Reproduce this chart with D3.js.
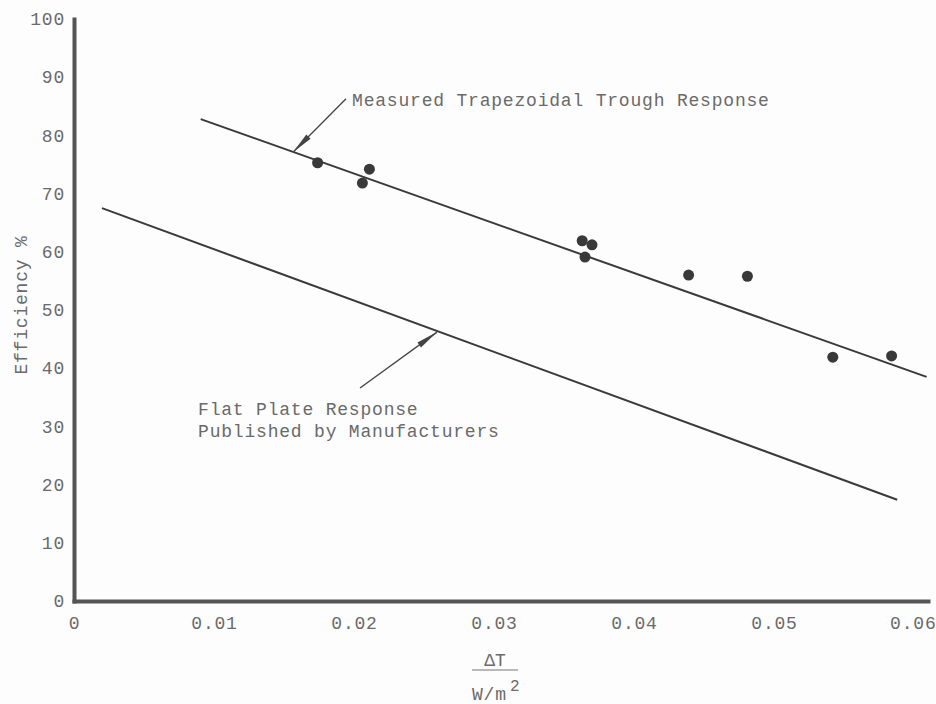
<!DOCTYPE html>
<html>
<head>
<meta charset="utf-8">
<script src="https://cdn.jsdelivr.net/npm/d3@7"></script>
<style>
  body { margin: 0; background: #fdfdfd; }
  svg text { font-family: "Liberation Mono", "Courier New", monospace; fill: #6a6a6a; }
</style>
</head>
<body>
<div id="chart"></div>
<script>
// measured points (dT / (W/m2), efficiency %)
var pointsX = [0.0174, 0.0206, 0.0211, 0.0363, 0.0365, 0.0370, 0.0439, 0.0481, 0.0542, 0.0584];
var pointsY = [75.3, 71.8, 74.2, 61.9, 59.1, 61.2, 56.0, 55.8, 41.9, 42.1];

// fitted lines: [start, end]
var troughLineX = [0.00905, 0.0609];
var troughLineY = [82.8, 38.5];
var flatLineX = [0.0020, 0.0588];
var flatLineY = [67.5, 17.4];

var xTicks = [0, 0.01, 0.02, 0.03, 0.04, 0.05, 0.06];
var xTickLabels = ["0", "0.01", "0.02", "0.03", "0.04", "0.05", "0.06"];
var yTicks = [0, 10, 20, 30, 40, 50, 60, 70, 80, 90, 100];

// annotations: text anchor + arrow tail/tip in data units
var troughNote = { text: ["Measured Trapezoidal Trough Response"], x: 0.01986, y: 85.1,
                   tail: [0.01943, 86.3], tip: [0.01564, 77.1] };
var flatNote = { text: ["Flat Plate Response", "Published by Manufacturers"], x: 0.00886, y: 32.0,
                 tail: [0.02043, 36.6], tip: [0.02593, 46.2] };

var width = 936, height = 704;
var svg = d3.select("#chart").append("svg")
    .attr("width", width)
    .attr("height", height);

var x = d3.scaleLinear().domain([0, 0.061]).range([74, 928]);
var y = d3.scaleLinear().domain([0, 100]).range([601, 19]);

// axes
var xAxis = svg.append("g")
    .attr("transform", `translate(0,${y(0)})`)
    .call(d3.axisBottom(x).tickValues(xTicks).tickFormat((d, i) => xTickLabels[i])
        .tickSize(0).tickPadding(15));
var yAxis = svg.append("g")
    .attr("transform", `translate(${x(0)},0)`)
    .call(d3.axisLeft(y).tickValues(yTicks).tickFormat(d3.format("d"))
        .tickSize(0).tickPadding(9));

[xAxis, yAxis].forEach(g => {
    g.select(".domain").attr("stroke", "#555").attr("stroke-width", 4).attr("stroke-linecap", "square");
    g.selectAll("text").attr("font-size", 18).attr("letter-spacing", 0.8)
        .attr("font-family", "Liberation Mono").attr("fill", "#6a6a6a");
});
// last x label sits at the page edge; pull it in a little
xAxis.selectAll(".tick text").filter(d => d === 0.06).attr("text-anchor", "end").attr("dx", 22);

// axis titles
svg.append("text")
    .attr("transform", "translate(27,305) rotate(-90)")
    .attr("text-anchor", "middle")
    .attr("font-size", 18).attr("letter-spacing", 0.8)
    .text("Efficiency %");

var xc = 495;
svg.append("text").attr("x", xc).attr("y", 666).attr("text-anchor", "middle")
    .attr("font-size", 18).text("\u0394T");
svg.append("line").attr("x1", 472).attr("x2", 518).attr("y1", 670).attr("y2", 670)
    .attr("stroke", "#777").attr("stroke-width", 1.2);
svg.append("text").attr("x", 472).attr("y", 700)
    .attr("font-size", 18).attr("letter-spacing", 0.8).text("W/m");
svg.append("text").attr("x", 510).attr("y", 691)
    .attr("font-size", 16).text("2");

// response lines
var lineGen = d3.line().x(d => x(d[0])).y(d => y(d[1]));
[[troughLineX, troughLineY], [flatLineX, flatLineY]].forEach(s => {
    svg.append("path")
        .datum(d3.zip(s[0], s[1]))
        .attr("d", lineGen)
        .attr("fill", "none")
        .attr("stroke", "#3a3a3a")
        .attr("stroke-width", 2);
});

// points
svg.selectAll("circle.pt")
    .data(d3.zip(pointsX, pointsY))
    .enter()
    .append("circle")
    .attr("class", "pt")
    .attr("cx", d => x(d[0]))
    .attr("cy", d => y(d[1]))
    .attr("r", 5.5)
    .attr("fill", "#393939");

// annotations with long thin arrowheads
function note(n) {
    var tx = x(n.tail[0]), ty = y(n.tail[1]);
    var hx = x(n.tip[0]), hy = y(n.tip[1]);
    svg.append("line")
        .attr("x1", tx).attr("y1", ty).attr("x2", hx).attr("y2", hy)
        .attr("stroke", "#444").attr("stroke-width", 1.3);
    var ang = Math.atan2(hy - ty, hx - tx);
    var len = 22, w = 3;
    var bx = hx - len * Math.cos(ang), by = hy - len * Math.sin(ang);
    var px = -Math.sin(ang) * w, py = Math.cos(ang) * w;
    svg.append("path")
        .attr("d", `M${hx},${hy} L${bx + px},${by + py} L${bx - px},${by - py} Z`)
        .attr("fill", "#444");
    var t = svg.append("text")
        .attr("x", x(n.x)).attr("y", y(n.y))
        .attr("font-size", 18).attr("letter-spacing", 0.8);
    n.text.forEach((s, i) => {
        t.append("tspan").attr("x", x(n.x)).attr("dy", i ? 22 : 0).text(s);
    });
}
note(troughNote);
note(flatNote);
</script>
</body>
</html>
